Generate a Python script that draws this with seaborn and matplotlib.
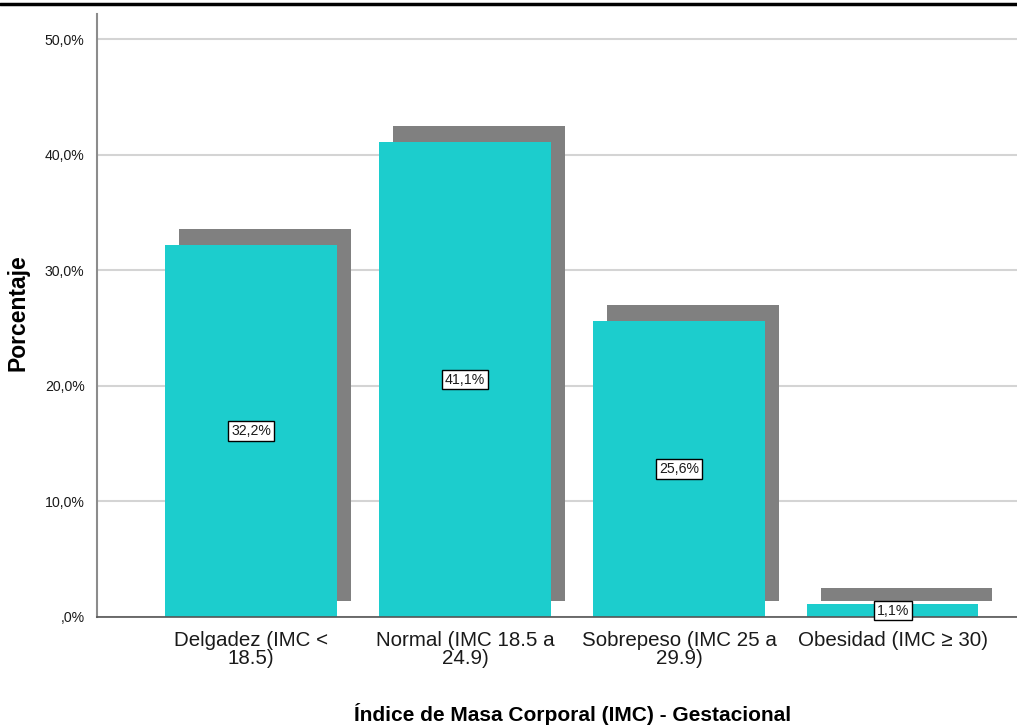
import pandas as pd
import matplotlib.pyplot as plt
import matplotlib.patches as mpatches
import matplotlib.transforms as mtransforms
from matplotlib.lines import Line2D
import seaborn as sns

# Datos del gráfico (porcentajes por categoría de IMC gestacional)
categorias = ['Delgadez (IMC <\n18.5)', 'Normal (IMC 18.5 a\n24.9)',
              'Sobrepeso (IMC 25 a\n29.9)', 'Obesidad (IMC ≥ 30)']
porcentajes = [32.2, 41.1, 25.6, 1.1]
etiquetas = ['32,2%', '41,1%', '25,6%', '1,1%']
ticks_y = [0, 10, 20, 30, 40, 50]
ticks_y_txt = [',0%', '10,0%', '20,0%', '30,0%', '40,0%', '50,0%']

df = pd.DataFrame({'categoria': categorias, 'porcentaje': porcentajes})

sns.set_style('white')
plt.rcParams['font.family'] = ['Liberation Sans', 'DejaVu Sans']
plt.rcParams['text.color'] = '#1a1a1a'
plt.rcParams['xtick.color'] = '#1a1a1a'
plt.rcParams['ytick.color'] = '#1a1a1a'

color_barra = '#1CCDCD'
color_sombra = '#808080'

fig = plt.figure(figsize=(10.17, 7.27), dpi=100)
ax = fig.add_axes([97 / 1017, 110 / 727, 920 / 1017, 603 / 727])

sns.barplot(data=df, x='categoria', y='porcentaje', color=color_barra,
            saturation=1, width=0.8, ax=ax, zorder=2)

# Sombra gris desplazada (estilo SPSS): 14 px a la derecha, 16 px arriba
desplazamiento = mtransforms.ScaledTranslation(14 / 100, 16 / 100, fig.dpi_scale_trans)
for p in list(ax.patches):
    p.set_edgecolor('none')
    sombra = mpatches.Rectangle((p.get_x(), p.get_y()), p.get_width(), p.get_height(),
                                facecolor=color_sombra, edgecolor='none', zorder=1.5,
                                transform=ax.transData + desplazamiento, clip_on=False)
    ax.add_patch(sombra)

# Etiquetas con recuadro en el centro de cada barra
for i, (v, t) in enumerate(zip(porcentajes, etiquetas)):
    ax.text(i, v / 2, t, ha='center', va='center', fontsize=10.2, zorder=5,
            bbox=dict(boxstyle='square,pad=0.2', facecolor='white',
                      edgecolor='black', linewidth=1.0))

ax.set_ylim(0, 52.2)
ax.set_xlim(-0.72, 3.58)
ax.set_yticks(ticks_y)
ax.set_yticklabels(ticks_y_txt, fontsize=10.2)
ax.tick_params(axis='y', length=0, pad=9)
ax.tick_params(axis='x', length=0, pad=10, labelsize=14.8)
for lbl in ax.get_xticklabels():
    lbl.set_linespacing(0.93)

ax.set_axisbelow(True)
ax.yaxis.grid(True, color='#d4d4d4', linewidth=1.5)
ax.xaxis.grid(False)

for s in ['top', 'right']:
    ax.spines[s].set_visible(False)
ax.spines['left'].set_color('#8c8c8c')
ax.spines['left'].set_linewidth(1.5)
ax.spines['bottom'].set_color('#555555')
ax.spines['bottom'].set_linewidth(1.2)

ax.set_xlabel('')
ax.set_ylabel('')
fig.text(573 / 1017, 1 - 721 / 727, 'Índice de Masa Corporal (IMC) - Gestacional',
         ha='center', va='baseline', fontsize=15, fontweight='bold', color='black')
fig.text(18 / 1017, 1 - 313 / 727, 'Porcentaje', ha='center', va='center',
         rotation=90, fontsize=16.5, fontweight='bold', color='black')

# Línea negra superior
fig.add_artist(Line2D([0, 1], [1 - 3.5 / 727, 1 - 3.5 / 727], color='black',
                      linewidth=2.5, transform=fig.transFigure))

fig.savefig('out.png', dpi=100)
